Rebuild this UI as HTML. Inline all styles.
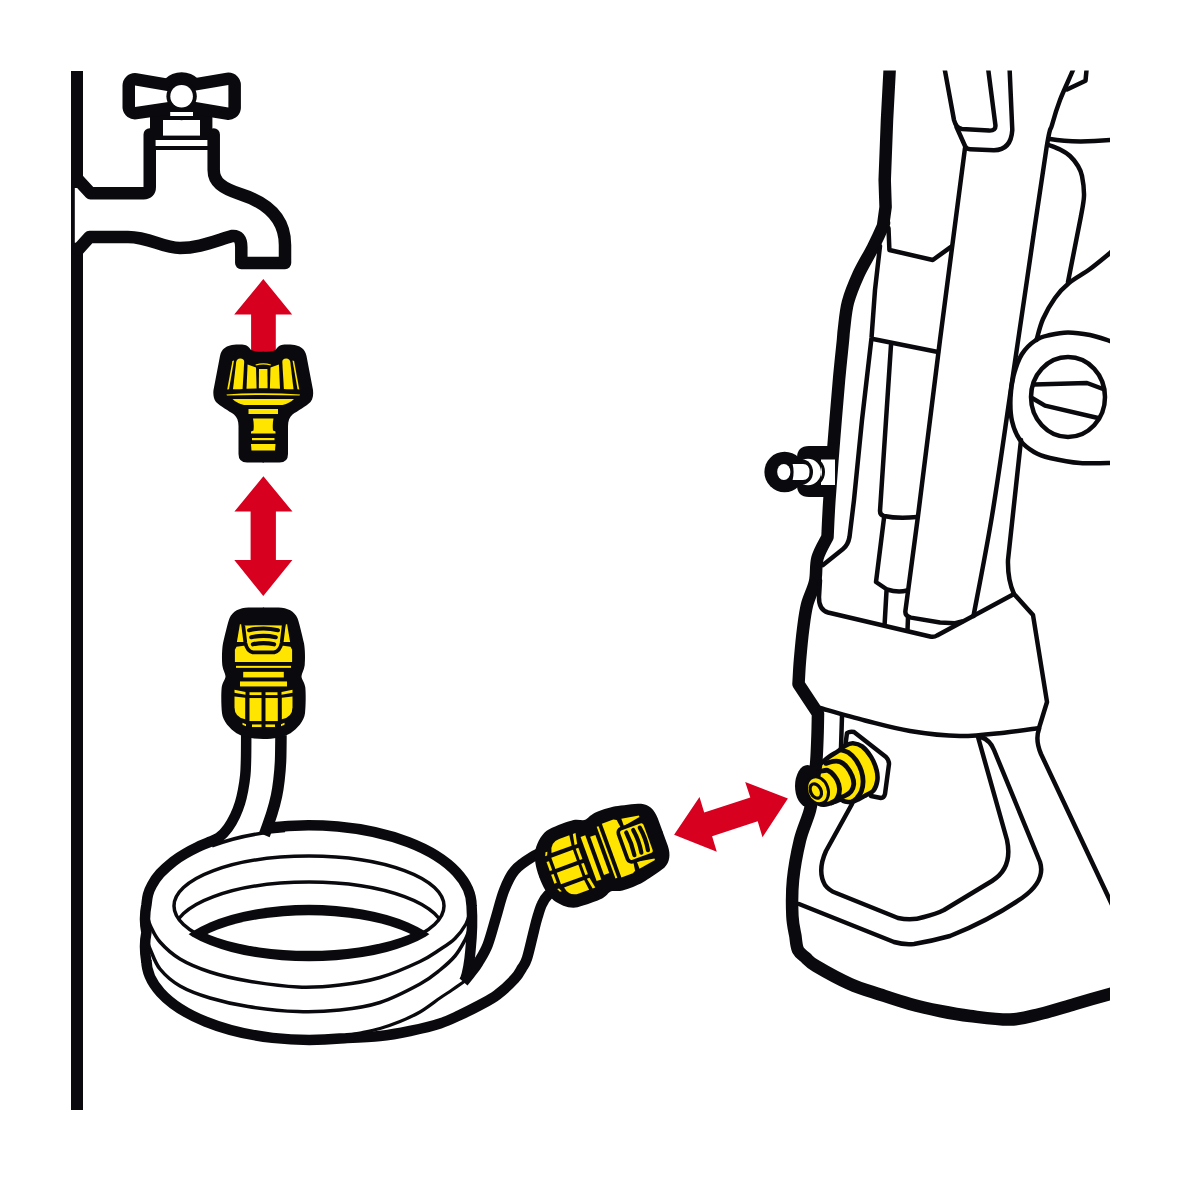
<!DOCTYPE html>
<html><head><meta charset="utf-8"><title>Connect water supply</title>
<style>
html,body{margin:0;padding:0;background:#fff;font-family:"Liberation Sans",sans-serif;}
svg{display:block}
.k{fill:#0a0a0e}
.w{fill:#fff}
.y{fill:#ffe500}
.r{fill:#d7001f}
.t{fill:none;stroke:#0a0a0e;stroke-width:4.5;stroke-linecap:round;stroke-linejoin:round}
.thk{fill:none;stroke:#0a0a0e;stroke-width:12.5;stroke-linecap:butt;stroke-linejoin:round}
</style></head><body>
<svg width="1181" height="1181" viewBox="0 0 1181 1181">
<rect width="1181" height="1181" fill="#fff"/>
<!-- ===== TAP ===== -->
<g id="tap">
 <path class="w" d="M74.8,176 L90.5,193.25 H143.5 Q149.75,193.25 149.75,187 V140 H213.7 V170 C213.7,182 222,188 240,194 C262,201 285,215 285,245 V263 H241.3 V247 Q241.3,235 232,236 C212,242 198,248 180,248 C162,248 150,237 128,237 H89.5 L74.8,253 Z"/>
 <path class="k" d="M71,71 H83 V188 H74.8 V242.8 H83 V1110 H71 Z"/>
 <path d="M78.5,180.2 L90.5,193.25 H143.5 Q149.75,193.25 149.75,187 V134.5" fill="none" stroke="#0a0a0e" stroke-width="12.5" stroke-linecap="round" stroke-linejoin="round"/>
 <path d="M213.7,134.5 V170 C213.7,182 222,188 240,194 C262,201 285,215 285,245 V263 H241.3 V247 Q241.3,235 232,236 C212,242 198,248 180,248 C162,248 150,237 128,237 H89.5 L78.5,249.2" fill="none" stroke="#0a0a0e" stroke-width="12.5" stroke-linecap="round" stroke-linejoin="round"/>
 <rect class="k" x="150" y="100" width="62.4" height="50"/>
 <rect class="w" x="155.6" y="140" width="51.8" height="6"/>
 <rect class="w" x="163" y="120" width="37" height="15.6"/>
 <g stroke="#0a0a0e" stroke-width="25" stroke-linejoin="round" class="k">
  <path d="M135,85.6 L170,91.6 V101.8 L135,107 Z"/>
  <path d="M228.4,85 L193,91 V101.6 L228.4,107.4 Z"/>
 </g>
 <circle class="k" cx="181.6" cy="96.2" r="24"/>
 <path class="w" d="M135,85.6 L170,91.6 V101.8 L135,107 Z"/>
 <path class="w" d="M228.4,85 L193,91 V101.6 L228.4,107.4 Z"/>
 <circle class="k" cx="181.6" cy="96.2" r="15.2"/>
 <circle class="w" cx="181.6" cy="96.2" r="11.3"/>
 <rect class="w" x="170.2" y="112" width="22.8" height="4"/>
</g>
<!-- ===== ARROWS ===== -->
<g id="arrows" class="r">
 <path d="M263.3,279 L292.2,314.6 H275.8 V352 H251.1 V314.6 H234.2 Z"/>
 <path d="M263.4,476.2 L292.5,511.6 H275.9 V560 H292.4 L263.3,596 L234.3,560 H250.6 V511.6 H234.4 Z"/>
 <path d="M674.1,834.8 L699.5,796.9 L704.2,812.5 L750.3,797.6 L745.2,782 L787.9,798.5 L762.5,837.3 L757.7,821.3 L712.1,836.2 L716.8,851.8 Z"/>
</g>
<!-- ===== TAP ADAPTER ===== -->
<g id="adapter">
 <g>
  <path class="k" d="M264,351.8 H263 C259,351.8 254,351.5 251,350 C249,347 247,345.5 245,345 C241,344.3 234,344.3 230,345.5 C226,346.5 221.5,349 220,356 L213.5,390 C213,394 213.5,399 216,402 C220,406 229,411 234,414.5 C237,417 238.5,421 238.5,426 V454 Q238.5,462.5 247,462.5 H264 Z"/>
 </g>
 <g transform="translate(526.5,0) scale(-1,1)">
  <path class="k" d="M264,351.8 H263 C259,351.8 254,351.5 251,350 C249,347 247,345.5 245,345 C241,344.3 234,344.3 230,345.5 C226,346.5 221.5,349 220,356 L213.5,390 C213,394 213.5,399 216,402 C220,406 229,411 234,414.5 C237,417 238.5,421 238.5,426 V454 Q238.5,462.5 247,462.5 H264 Z"/>
 </g>
 <g class="y">
  <path d="M232.4,361 L234,360.4 L229,389.2 L227.2,389.4 Z"/>
  <path d="M294.1,361 L292.5,360.4 L297.5,389.2 L299.3,389.4 Z"/>
  <path d="M236.2,362 Q236.8,358.5 240.2,358.5 Q244.3,358.5 244.2,362 L242.6,389 Q237.5,389.6 233,389.2 Z"/>
  <path d="M290.3,362 Q289.7,358.5 286.3,358.5 Q282.2,358.5 282.3,362 L283.9,389 Q289,389.6 293.5,389.2 Z"/>
  <path d="M247.6,364.6 L256,367.4 L256.6,388.4 L246.5,388.8 Z"/>
  <path d="M278.9,364.6 L270.5,367.4 L269.9,388.4 L280,388.8 Z"/>
  <path d="M259,369 H267.4 L267.6,388.2 H258.8 Z"/>
  <path d="M255.5,364.6 Q263.25,362 271,364.6 L270.6,365.6 Q263.25,363.6 255.9,365.6 Z"/>
  <path d="M226.5,394.4 Q263.25,392.2 300,394.4 L299.6,395.6 Q263.25,394.2 226.9,395.6 Z"/>
  <path d="M232.5,399 H294 Q290,403 282.5,405 H244 Q236.5,403 232.5,399 Z"/>
  <rect x="248.5" y="409" width="29.5" height="5"/>
  <path d="M253,418.5 H273.5 Q272.3,424 273,430.6 L275.5,431.6 V433.6 H251 V431.6 L253.5,430.6 Q254.2,424 253,418.5 Z"/>
  <rect x="252" y="438" width="22.5" height="2.2"/>
  <path d="M251,444 H275.5 L275,450.5 H251.5 Z"/>
 </g>
</g>
<!-- ===== HOSE + COIL ===== -->
<defs>
 <clipPath id="cE1"><ellipse cx="309" cy="906" rx="135" ry="50"/></clipPath>
 <clipPath id="cE1p"><ellipse cx="309" cy="906" rx="140.2" ry="55.2"/></clipPath>
 <clipPath id="cE1m"><ellipse cx="309" cy="906" rx="129.8" ry="44.8"/></clipPath>
</defs>
<g id="hose" fill="none" stroke-linecap="butt" stroke-linejoin="round">
 <path d="M151.1,906 A158.3,76.3 0 0 1 467.7,906 L477,962 L472.4,960 A163,80 0 0 1 146.4,960 Z" fill="#fff" stroke="none"/>
 <g stroke="#0a0a0e" stroke-width="3.5">
  <path d="M212,845.9 A158.3,76.3 0 0 1 285,830.6"/>
  <path d="M147.0,915.0 C147.6,916.8 148.3,921.5 150.5,926.0 C152.7,930.5 155.1,936.5 160.0,942.0 C164.9,947.5 171.7,954.0 180.0,959.0 C188.3,964.0 198.7,968.3 210.0,972.0 C221.3,975.7 233.3,978.5 248.0,981.0 C262.7,983.5 282.7,986.3 298.0,987.0 C313.3,987.7 326.3,986.6 340.0,985.0 C353.7,983.4 366.7,981.4 380.0,977.5 C393.3,973.6 410.0,966.2 420.0,961.5 C430.0,956.8 434.2,953.3 440.0,949.5 C445.8,945.7 450.7,942.8 455.0,938.5 C459.3,934.2 463.5,928.4 466.0,924.0 C468.5,919.6 469.3,914.0 470.0,912.0"/>
  <path d="M147.0,940.0 C147.6,941.7 148.3,945.2 150.5,950.0 C152.7,954.8 155.1,963.0 160.0,969.0 C164.9,975.0 171.7,981.2 180.0,986.0 C188.3,990.8 198.7,994.6 210.0,998.0 C221.3,1001.4 233.3,1004.2 248.0,1006.5 C262.7,1008.8 282.7,1011.0 298.0,1011.6 C313.3,1012.2 326.3,1011.5 340.0,1010.0 C353.7,1008.5 366.7,1006.8 380.0,1002.5 C393.3,998.2 410.0,989.4 420.0,984.0 C430.0,978.6 434.2,974.7 440.0,970.0 C445.8,965.3 450.8,961.0 455.0,956.0 C459.2,951.0 462.7,944.3 465.0,940.0 C467.3,935.7 468.3,931.7 469.0,930.0"/>
  <ellipse cx="309" cy="906" rx="135" ry="50"/>
  <ellipse cx="309" cy="932" rx="135" ry="50" clip-path="url(#cE1)"/>
 </g>
 <g stroke="#0a0a0e" stroke-width="10.5">
  <path d="M146.4,962 Q143.6,946 146.4,932.5 Q143.6,919 146.4,905 C146.7,903.3 147.1,898.0 148.0,894.7 C148.9,891.3 150.0,888.5 152.0,885.0 C154.0,881.4 156.4,877.6 160.0,873.6 C163.6,869.7 169.3,864.6 173.5,861.3 C177.7,858.0 181.0,856.0 185.0,853.7 C189.0,851.3 193.5,849.0 197.3,847.2 C201.1,845.4 204.4,844.2 208.0,842.6 C211.6,841.0 215.6,840.0 218.9,837.6 C222.2,835.2 225.3,831.7 228.0,828.0 C230.7,824.3 233.2,819.7 235.2,815.5 C237.2,811.3 238.7,807.2 240.0,803.0 C241.3,798.8 242.1,795.2 243.0,790.5 C243.9,785.8 244.8,780.1 245.3,775.0 C245.8,769.9 245.8,766.7 246.0,760.0 C246.2,753.3 246.2,739.2 246.2,735.0"/>
  <path stroke-width="11.5" d="M281.0,735.0 C280.9,739.2 280.9,752.5 280.6,760.0 C280.3,767.5 279.7,774.0 279.0,780.0 C278.3,786.0 277.7,790.4 276.5,795.9 C275.3,801.4 273.7,807.5 272.0,813.0 C270.3,818.5 267.8,825.3 266.5,829.0 C265.2,832.7 264.7,834.0 264.3,835.0"/>
  <path d="M268,827.7 A163,81 0 0 1 471.6,906 C472.6,920 471.5,940 470.5,950 C469.5,962 468,972 465,980"/>
 </g>
 <g clip-path="url(#cE1p)"><ellipse cx="309" cy="965" rx="140.2" ry="60.2" fill="#0a0a0e"/></g>
 <g clip-path="url(#cE1m)"><ellipse cx="309" cy="965" rx="129.8" ry="49.8" fill="#fff"/></g>
 <path d="M562.0,849.0 C559.7,849.2 552.9,848.7 548.0,850.0 C543.1,851.3 538.0,853.4 532.5,856.8 C527.0,860.2 519.5,864.7 514.8,870.3 C510.0,875.9 507.1,882.7 504.0,890.6 C500.9,898.5 498.6,908.7 495.9,917.7 C493.2,926.7 490.6,937.3 487.7,944.8 C484.8,952.3 481.2,957.6 478.3,962.5 C475.4,967.4 472.5,970.8 470.0,974.0 C467.5,977.2 466.5,979.3 463.5,982.0 C460.5,984.7 455.9,987.3 452.0,990.0 C448.1,992.7 445.3,994.3 440.0,998.0 C434.7,1001.7 426.7,1008.1 420.0,1012.0 C413.3,1015.9 406.7,1018.8 400.0,1021.5 C393.3,1024.2 386.7,1026.6 380.0,1028.5 C373.3,1030.4 365.8,1031.8 360.0,1033.0 C354.2,1034.2 347.5,1035.5 345.0,1036.0 L340,1038.5 C346.7,1038.1 368.3,1037.2 380.0,1036.0 C391.7,1034.8 400.0,1033.1 410.0,1031.0 C420.0,1028.9 431.7,1026.2 440.0,1023.5 C448.3,1020.8 453.3,1018.1 460.0,1015.0 C466.7,1011.9 473.8,1008.3 480.0,1005.0 C486.2,1001.7 491.2,999.4 497.0,995.0 C502.8,990.6 510.6,983.2 514.8,978.7 C519.0,974.2 520.0,971.4 522.0,968.0 C524.0,964.6 525.0,964.5 527.0,958.4 C529.0,952.3 532.0,938.2 533.8,931.3 C535.5,924.4 536.1,921.5 537.5,917.0 C538.9,912.5 540.1,907.9 541.9,904.2 C543.6,900.5 545.7,897.3 548.0,895.0 C550.3,892.7 552.7,892.1 555.5,890.6 C558.3,889.1 563.4,886.8 565.0,886.0 Z" fill="#fff" stroke="none"/>
 <g stroke="#0a0a0e">
  <path stroke-width="10.5" d="M146.4,960 A163,80 0 0 0 340,1038.5 C346.7,1038.1 368.3,1037.2 380.0,1036.0 C391.7,1034.8 400.0,1033.1 410.0,1031.0 C420.0,1028.9 431.7,1026.2 440.0,1023.5 C448.3,1020.8 453.3,1018.1 460.0,1015.0 C466.7,1011.9 473.8,1008.3 480.0,1005.0 C486.2,1001.7 491.2,999.4 497.0,995.0 C502.8,990.6 510.6,983.2 514.8,978.7 C519.0,974.2 520.0,971.4 522.0,968.0 C524.0,964.6 525.0,964.5 527.0,958.4 C529.0,952.3 532.0,938.2 533.8,931.3 C535.5,924.4 536.1,921.5 537.5,917.0 C538.9,912.5 540.1,907.9 541.9,904.2 C543.6,900.5 545.7,897.3 548.0,895.0 C550.3,892.7 552.7,892.1 555.5,890.6 C558.3,889.1 563.4,886.8 565.0,886.0"/>
  <path stroke-width="10.5" d="M548.0,850.0 C545.4,851.1 538.0,853.4 532.5,856.8 C527.0,860.2 519.5,864.7 514.8,870.3 C510.0,875.9 507.1,882.7 504.0,890.6 C500.9,898.5 498.6,908.7 495.9,917.7 C493.2,926.7 490.6,937.3 487.7,944.8 C484.8,952.3 481.2,957.6 478.3,962.5 C475.4,967.4 472.5,970.8 470.0,974.0 C467.5,977.2 464.6,980.7 463.5,982.0"/>
  <path stroke-width="3.2" stroke-linecap="round" d="M463.5,982.0 C461.6,983.3 455.9,987.3 452.0,990.0 C448.1,992.7 445.3,994.3 440.0,998.0 C434.7,1001.7 426.7,1008.1 420.0,1012.0 C413.3,1015.9 406.7,1018.8 400.0,1021.5 C393.3,1024.2 386.7,1026.6 380.0,1028.5 C373.3,1030.4 365.8,1031.8 360.0,1033.0 C354.2,1034.2 347.5,1035.5 345.0,1036.0"/>
 </g>
</g>
<g transform="translate(601,854.5) rotate(70)">
 <g>
  <path class="k" d="M0.6,-65.75 H-15 C-24,-65.5 -31,-62 -34,-55 C-36.5,-48 -39,-36 -40.5,-30 C-41.6,-24 -41.8,-14 -41.2,-8 C-40.5,-3 -38.2,0 -38,3 C-38,6 -41,9 -41.8,14 C-42.4,20 -42.4,32 -41.5,40 C-40.5,48 -34,55 -27,60 C-19,64.5 -10,65.75 0,65.75 H0.6 Z"/>
 </g>
 <g transform="scale(-1,1)">
  <path class="k" d="M0.6,-65.75 H-15 C-24,-65.5 -31,-62 -34,-55 C-36.5,-48 -39,-36 -40.5,-30 C-41.6,-24 -41.8,-14 -41.2,-8 C-40.5,-3 -38.2,0 -38,3 C-38,6 -41,9 -41.8,14 C-42.4,20 -42.4,32 -41.5,40 C-40.5,48 -34,55 -27,60 C-19,64.5 -10,65.75 0,65.75 H0.6 Z"/>
 </g>
 <g class="y">
  <path d="M-28.6,-11.3 V-23.5 L-27,-26.5 L-18,-27.8 H18 L27,-26.5 L28.6,-23.5 V-11.3 Z"/>
  <path d="M-23.6,-48.9 L-26.6,-31.3 H-19 L-22,-48.9 Z"/>
  <path d="M23.6,-48.9 L26.6,-31.3 H19 L22,-48.9 Z"/>
  <rect x="-27.5" y="-7.4" width="55" height="2"/>
  <rect x="-20.3" y="-1.4" width="40.6" height="5.6"/>
  <rect x="-23.5" y="8.2" width="47" height="5"/>
  <path d="M-29,16.6 L-18,18.8 V21.6 L-29,19.4 Z"/>
  <path d="M29,16.6 L18,18.8 V21.6 L29,19.4 Z"/>
  <rect x="-14" y="19" width="12" height="2.8"/>
  <rect x="2" y="19" width="12" height="2.8"/>
  <path d="M-29,23.2 L-18.3,24.6 V46 Q-29,44 -29,34 Z"/>
  <path d="M29,23.2 L18.3,24.6 V46 Q29,44 29,34 Z"/>
  <rect x="-14" y="24.8" width="12" height="23"/>
  <rect x="2" y="24.8" width="12.3" height="23"/>
  <rect x="-11.5" y="51.2" width="9.5" height="2.6"/>
  <rect x="2" y="51.2" width="9.5" height="2.6"/>
  <path d="M-21,49.4 L-17.5,51 V53 L-21,51.4 Z"/>
  <path d="M21,49.4 L17.5,51 V53 L21,51.4 Z"/>
 </g>

 <rect x="-17.6" y="-52" width="35.2" height="28.6" rx="4.5" ry="4.5" fill="#ffe500" stroke="#0a0a0e" stroke-width="3.8"/>
 <g fill="none" stroke="#0a0a0e" stroke-width="4.2" stroke-linecap="round">
  <path d="M-12,-45.6 Q0,-47.8 12,-45.6"/>
  <path d="M-12,-38.6 Q0,-40.6 12,-38.6"/>
  <path d="M-12,-31.2 Q0,-32.8 12,-31.2"/>
 </g>
</g>
<g transform="translate(263.5,673.25)">
 <g>
  <path class="k" d="M0.6,-65.75 H-15 C-24,-65.5 -31,-62 -34,-55 C-36.5,-48 -39,-36 -40.5,-30 C-41.6,-24 -41.8,-14 -41.2,-8 C-40.5,-3 -38.2,0 -38,3 C-38,6 -41,9 -41.8,14 C-42.4,20 -42.4,32 -41.5,40 C-40.5,48 -34,55 -27,60 C-19,64.5 -10,65.75 0,65.75 H0.6 Z"/>
 </g>
 <g transform="scale(-1,1)">
  <path class="k" d="M0.6,-65.75 H-15 C-24,-65.5 -31,-62 -34,-55 C-36.5,-48 -39,-36 -40.5,-30 C-41.6,-24 -41.8,-14 -41.2,-8 C-40.5,-3 -38.2,0 -38,3 C-38,6 -41,9 -41.8,14 C-42.4,20 -42.4,32 -41.5,40 C-40.5,48 -34,55 -27,60 C-19,64.5 -10,65.75 0,65.75 H0.6 Z"/>
 </g>
 <g class="y">
  <path d="M-28.6,-11.3 V-23.5 L-27,-26.5 L-18,-27.8 H18 L27,-26.5 L28.6,-23.5 V-11.3 Z"/>
  <path d="M-23.6,-48.9 L-26.6,-31.3 H-19 L-22,-48.9 Z"/>
  <path d="M23.6,-48.9 L26.6,-31.3 H19 L22,-48.9 Z"/>
  <rect x="-27.5" y="-7.4" width="55" height="2"/>
  <rect x="-20.3" y="-1.4" width="40.6" height="5.6"/>
  <rect x="-23.5" y="8.2" width="47" height="5"/>
  <path d="M-29,16.6 L-18,18.8 V21.6 L-29,19.4 Z"/>
  <path d="M29,16.6 L18,18.8 V21.6 L29,19.4 Z"/>
  <rect x="-14" y="19" width="12" height="2.8"/>
  <rect x="2" y="19" width="12" height="2.8"/>
  <path d="M-29,23.2 L-18.3,24.6 V46 Q-29,44 -29,34 Z"/>
  <path d="M29,23.2 L18.3,24.6 V46 Q29,44 29,34 Z"/>
  <rect x="-14" y="24.8" width="12" height="23"/>
  <rect x="2" y="24.8" width="12.3" height="23"/>
  <rect x="-11.5" y="51.2" width="9.5" height="2.6"/>
  <rect x="2" y="51.2" width="9.5" height="2.6"/>
  <path d="M-21,49.4 L-17.5,51 V53 L-21,51.4 Z"/>
  <path d="M21,49.4 L17.5,51 V53 L21,51.4 Z"/>
 </g>

 <path d="M-20.2,-47.3 L-18.1,-30.2 Q-16.5,-22.5 -10.7,-20.85 H10.7 Q16.5,-22.5 18.1,-30.2 L20.4,-49.5 Q0,-50.4 -20.4,-49.5 Z" fill="#ffe500" stroke="#0a0a0e" stroke-width="3.7" stroke-linejoin="round"/>
 <g fill="none" stroke="#0a0a0e" stroke-width="4.2" stroke-linecap="round">
  <path d="M-14.4,-43.05 Q0,-46.45 14.4,-43.05"/>
  <path d="M-12.2,-36.05 Q0,-38.75 12.2,-36.05"/>
  <path d="M-10.6,-28.95 Q0,-31.45 10.6,-28.95"/>
 </g>
</g>
<!-- ===== MACHINE ===== -->
<defs><clipPath id="crop"><rect x="0" y="70.6" width="1110" height="1110.4"/></clipPath></defs>
<g id="machine" clip-path="url(#crop)">
 <path class="thk" d="M889.6,60.0 L889.6,71.0 L887.0,120.0 L884.7,180.0 L885.6,207.0 L883.0,226.0 C883.8,221.8 884.9,221.6 883.0,226.0 C881.1,230.4 876.9,239.6 872.8,247.7 C868.7,255.8 862.4,265.8 858.3,274.8 C854.2,283.9 850.4,293.0 848.0,302.0 C845.6,311.0 844.8,322.7 844.0,329.0 C843.2,335.3 843.8,331.5 843.0,340.0 C842.2,348.5 840.5,363.3 839.0,380.0 C837.5,396.7 835.6,420.0 834.0,440.0 C832.4,460.0 830.5,483.8 829.4,500.0 C828.3,516.2 827.8,530.8 827.5,537.0 C825.8,540.5 819.6,550.5 817.5,558.0 C815.4,565.5 816.8,574.2 815.0,582.0 C813.2,589.8 809.0,597.0 807.0,605.0 C805.0,613.0 804.2,620.8 803.0,630.0 C801.8,639.2 800.8,651.0 800.0,660.0 C799.2,669.0 798.8,680.0 798.5,684.0 L798.5,684.0 L818.0,713.5 C817.9,717.2 817.8,728.2 817.5,736.0 C817.2,743.8 817.0,751.8 816.4,760.0 C815.8,768.2 815.1,776.7 814.0,785.0 C812.9,793.3 812.3,800.8 810.0,810.0 C807.7,819.2 802.8,828.3 800.0,840.0 C797.2,851.7 794.3,867.3 793.0,880.0 C791.7,892.7 792.0,906.7 792.4,916.0 C792.8,925.3 794.9,932.7 795.4,936.0 C795.8,938.3 796.2,946.3 798.0,950.0 C799.8,953.7 803.0,955.3 806.0,958.0 C809.0,960.7 808.7,961.7 816.0,966.0 C823.3,970.3 839.3,979.2 850.0,984.0 C860.7,988.8 870.0,991.2 880.0,994.5 C890.0,997.8 900.0,1001.2 910.0,1004.0 C920.0,1006.8 930.0,1009.0 940.0,1011.0 C950.0,1013.0 958.3,1014.6 970.0,1016.0 C981.7,1017.4 998.3,1019.9 1010.0,1019.6 C1021.7,1019.3 1029.2,1016.6 1040.0,1014.0 C1050.8,1011.4 1062.5,1007.6 1075.0,1004.0 C1087.5,1000.4 1108.3,994.4 1115.0,992.5"/>
 <ellipse class="k" cx="807.5" cy="786" rx="12.5" ry="21"/>
 <g class="t">
  <path d="M888.5,228 L889.4,250 L932.8,260 L951.7,246.4"/>
  <path d="M880,246 L875,290 L871.5,338 L862,420 L854,500 L849.5,537 Q848,545 843,549 L823,565"/>
  <path d="M820,580 L819,597 Q818.6,609.5 828,612.5 L930,636.5 Q934,637.5 937,635.5 L1014,594"/>
  <path d="M820.0,708.0 C827.5,710.1 850.0,716.7 865.0,720.5 C880.0,724.3 894.2,728.4 910.0,731.0 C925.8,733.6 944.0,735.8 960.0,736.0 C976.0,736.2 992.8,733.7 1006.0,732.4 C1019.2,731.1 1033.5,728.7 1039.0,728.0"/>
  <path d="M943,60 L954,120 Q956,128 962,129 L989,130.6 Q996,131 995.4,125 L987,60"/>
  <path d="M956.5,127 L965,146 Q966.5,149 970,149.2 L994,150.2 Q1011,150 1012.3,130 L1009.2,60"/>
  <path d="M965,148 L940,340 L918,516 L905.4,611 Q904.8,616 911,617.6 L940,622.5 L955,623.2 L962,621.5"/>
  <path d="M1076.0,60.0 C1075.5,61.7 1075.7,63.3 1073.0,70.0 C1070.3,76.7 1063.5,90.8 1060.0,100.0 C1056.5,109.2 1054.2,117.0 1052.0,125.0 C1049.8,133.0 1050.7,122.2 1046.5,148.0 C1042.3,173.8 1033.0,239.3 1027.0,280.0 C1021.0,320.7 1016.3,352.7 1010.5,392.0 C1004.7,431.3 998.2,478.7 992.0,516.0 C985.8,553.3 976.6,599.3 973.5,616.0"/>
  <path d="M1067,89.5 L1085.5,80.8 L1087.5,60"/>
  <path d="M1050,139 Q1075,143.5 1115,139.5"/>
  <path d="M1049.0,145.0 C1050.8,145.8 1056.5,147.7 1060.0,149.5 C1063.5,151.3 1067.0,153.2 1070.0,156.0 C1073.0,158.8 1076.0,162.7 1078.0,166.0 C1080.0,169.3 1081.0,171.0 1082.0,176.0 C1083.0,181.0 1084.2,189.3 1084.0,196.0 C1083.8,202.7 1081.5,212.7 1081.0,216.0 L1068,282"/>
  <path d="M1116.0,248.0 C1115.0,248.8 1114.3,249.5 1110.0,253.0 C1105.7,256.5 1096.8,264.0 1090.0,269.0 C1083.2,274.0 1074.8,278.2 1069.0,283.0 C1063.2,287.8 1059.3,292.0 1055.0,298.0 C1050.7,304.0 1046.1,312.0 1043.0,319.0 C1039.9,326.0 1037.6,336.5 1036.5,340.0"/>
  <path d="M1115.0,343.0 C1114.2,342.7 1114.2,342.3 1110.0,341.0 C1105.8,339.7 1097.0,336.4 1090.0,335.0 C1083.0,333.6 1074.7,332.4 1068.0,332.4 C1061.3,332.4 1055.3,333.7 1050.0,335.0 C1044.7,336.3 1040.7,336.8 1036.0,340.0 C1031.3,343.2 1025.8,348.0 1022.0,354.0 C1018.2,360.0 1015.4,368.7 1013.5,376.0 C1011.6,383.3 1010.8,390.5 1010.5,398.0 C1010.2,405.5 1010.4,414.0 1012.0,421.0 C1013.6,428.0 1016.3,434.8 1020.0,440.0 C1023.7,445.2 1029.0,449.0 1034.0,452.0 C1039.0,455.0 1042.3,456.2 1050.0,458.0 C1057.7,459.8 1069.2,462.2 1080.0,463.0 C1090.8,463.8 1109.2,463.0 1115.0,463.0"/>
  <path d="M1034,384.4 L1087,383 L1103,389"/>
  <path d="M1032,398 L1045,405.6 L1098,418"/>
  <path d="M1021,440 L1008,560 Q1007.5,580 1014,594 L1033,615 L1047,702 L1039,728"/>
  <path d="M1039,729 Q1035,740 1041,754 L1115,911"/>
  <path d="M852,804 L826,851 Q817,871 825,885 Q829,890.5 836,893 L898,918 Q912,921 924,917 Q936,914 944,910 L992,881 Q1013,868 1007,840 L978,737"/>
  <path d="M799,904 L894,942 Q904,945 914,944 Q932,941 950,936 Q990,920 1022,898 Q1046,881 1040,862 L994,750 Q990,740 981,737"/>
  <path d="M845,748 L847,733 Q850,731 854,732 L886,757 Q889,760 889,764 L885,794 Q884,798 881,798 L871,796"/>
  <path d="M842,716 L841,748"/>
  <path d="M873,339 L938,352"/>
  <path d="M891,345 L880,511 Q880,515 884,516 Q898,519 917,517"/>
  <path d="M884,518 L876,582 L887,589.5 Q898,593 907,590.5"/>
  <path d="M886.5,591 L884.6,624.5"/>
  <path d="M908,617.5 L907.5,630.5"/>
  <ellipse cx="1068" cy="397" rx="37" ry="40"/>
 </g>
 <g id="nipple" stroke="#0a0a0e" stroke-linejoin="round" stroke-linecap="round">
  <path d="M820.2,764.0 C821.7,762.8 826.4,758.8 829.3,756.7 C832.2,754.6 835.0,753.2 837.7,751.4 C840.4,749.5 842.8,747.0 845.3,745.7 C847.8,744.3 850.1,743.1 852.9,743.2 C855.7,743.4 859.0,744.1 862.1,746.4 C865.1,748.7 868.8,753.2 871.2,757.1 C873.6,761.0 875.5,766.1 876.6,770.1 C877.6,774.0 877.8,777.3 877.3,780.7 C876.8,784.2 875.4,788.2 873.5,790.6 C871.6,793.1 868.4,793.8 865.9,795.2 C863.3,796.7 860.7,798.3 858.3,799.4 C855.8,800.5 853.7,801.8 851.4,802.1 C849.1,802.4 846.3,801.7 844.5,801.3 C842.8,800.9 842.4,799.7 840.7,799.8 C839.1,799.9 836.5,801.1 834.6,801.7 C832.7,802.3 831.1,803.1 829.3,803.6 C827.5,804.1 825.6,804.7 824.0,804.7 C822.3,804.8 821.0,804.7 819.4,804.0 C817.7,803.3 814.9,801.1 814.1,800.5 Z" fill="#ffe500" stroke-width="4.6"/>
  <path d="M840.7,749.9 C842.0,750.3 845.8,750.8 848.4,752.5 C850.9,754.2 853.8,757.1 856.0,760.2 C858.1,763.2 860.1,767.3 861.3,770.8 C862.5,774.4 863.1,778.1 863.1,781.5 C863.1,784.9 862.4,788.6 861.3,791.4 C860.3,794.2 858.1,796.6 856.7,798.3 C855.3,799.9 853.6,800.8 852.9,801.3" fill="none" stroke-width="4.8"/>
  <path d="M825.9,763.4 C827.1,763.0 830.8,761.6 833.1,761.3 C835.5,761.0 837.7,760.7 840.0,761.7 C842.3,762.6 844.8,764.6 846.8,767.0 C848.9,769.4 851.0,773.2 852.2,776.2 C853.3,779.1 853.9,782.0 853.7,784.5 C853.5,787.1 852.5,789.5 851.0,791.4 C849.5,793.3 846.4,795.0 844.5,796.0 C842.7,796.9 840.7,796.9 840.0,797.1" fill="none" stroke-width="4.8"/>
  <path d="M820.5,771.4 C821.7,771.3 825.4,769.7 827.8,770.4 C830.1,771.2 832.8,773.8 834.6,776.2 C836.5,778.5 838.1,781.7 838.8,784.5 C839.6,787.3 839.7,790.4 839.2,792.9 C838.8,795.5 837.4,798.1 836.2,799.8 C834.9,801.4 832.3,802.3 831.6,802.8" fill="none" stroke-width="4.8"/>
  <ellipse cx="817.5" cy="790.3" rx="10.6" ry="13.8" transform="rotate(-20 817.5 790.3)" fill="#ffe500" stroke-width="3"/>
  <ellipse cx="815.8" cy="791" rx="5.2" ry="7.6" transform="rotate(-26 815.8 791)" fill="#ffe500" stroke-width="3.2"/>
 </g>
 <g id="nozzle">
  <circle class="k" cx="784.6" cy="472" r="20.2"/>
  <path class="k" d="M809,446 H832 V497 H809 Q797,497 797,485 V458 Q797,446 809,446 Z"/>
  <rect class="w" x="821" y="459.5" width="14" height="25.5"/>
  <ellipse cx="808" cy="472" rx="15.5" ry="15" fill="none" stroke="#0a0a0e" stroke-width="3"/>
  <ellipse class="w" cx="808" cy="472" rx="13" ry="13.2"/>
  <ellipse class="k" cx="802.5" cy="472" rx="10.5" ry="12.4"/>
  <path class="w" d="M792.6,464 H803 Q809.5,464 809.5,472 Q809.5,480 803,480 H792.6 Q794.6,472 792.6,464 Z"/>
  <ellipse class="w" cx="783.8" cy="472" rx="6.6" ry="8"/>
 </g>
</g>
</svg>
</body></html>
